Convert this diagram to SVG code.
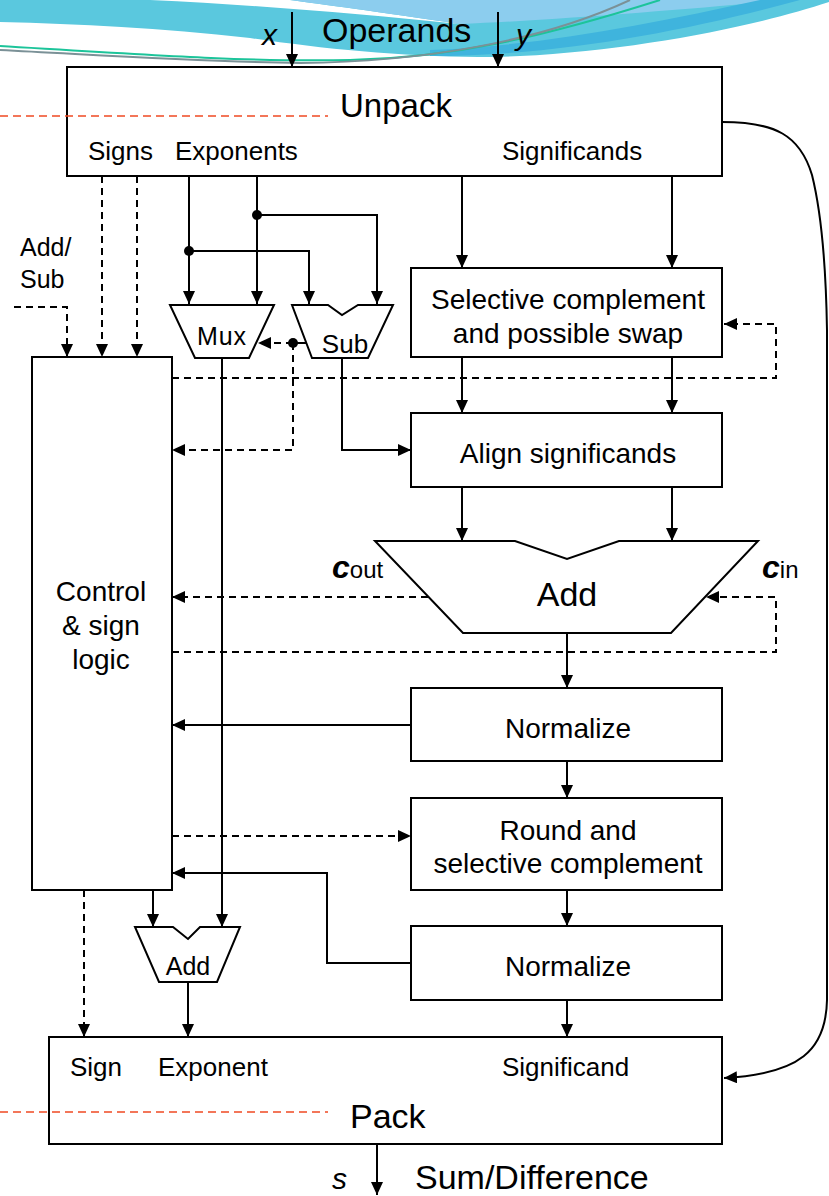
<svg xmlns="http://www.w3.org/2000/svg" width="829" height="1196" viewBox="0 0 829 1196">
<defs>
<style>
.box{fill:#fff;stroke:#000;stroke-width:2}
.ln{fill:none;stroke:#000;stroke-width:2}
.dl{fill:none;stroke:#000;stroke-width:2;stroke-dasharray:7 5}
.rd{fill:none;stroke:#f04a23;stroke-width:1.6;stroke-dasharray:8 5}
text{font-family:"Liberation Sans",Arial,sans-serif;fill:#000}
.big{font-size:34px}
.med{font-size:28px;text-anchor:middle}
.sm{font-size:26px}
</style>
<marker id="ah" markerUnits="userSpaceOnUse" markerWidth="13" markerHeight="12" refX="13" refY="6" orient="auto">
<path d="M0,0 L13,6 L0,12 Z" fill="#000"/>
</marker>
</defs>
<g id="decoration">
<path d="M0,0 H829 V2 C760,25 640,50 520,56 C430,60 330,50 250,38 C160,28 80,24 0,22 Z" fill="#5ac8de"/>
<path d="M150,0 C260,5 360,14 460,24 C380,12 320,4 290,0 Z" fill="#ffffff"/>
<path d="M290,0 C320,4 380,12 460,24 C560,20 700,8 790,0 Z" fill="#8ccdee"/>
<path d="M430,50 C540,46 650,24 760,0 L800,0 C690,30 560,56 430,56 Z" fill="#3fb4dd"/>
<path d="M0,46 C150,55 250,62 350,60 C450,58 540,38 660,0" fill="none" stroke="#1cc49a" stroke-width="2"/>
<path d="M0,50 C100,55 200,62 300,63 C420,62 540,42 630,0" fill="none" stroke="#7b9197" stroke-width="2"/>
</g>
<g id="connectors">
<line class="ln" x1="292" y1="12" x2="292" y2="67" marker-end="url(#ah)"/>
<line class="ln" x1="498" y1="12" x2="498" y2="67" marker-end="url(#ah)"/>
<line class="dl" x1="102" y1="176" x2="102" y2="357" marker-end="url(#ah)"/>
<line class="dl" x1="137" y1="176" x2="137" y2="357" marker-end="url(#ah)"/>
<polyline class="dl" points="14,307 67,307 67,357" marker-end="url(#ah)"/>
<line class="ln" x1="189" y1="176" x2="189" y2="304" marker-end="url(#ah)"/>
<line class="ln" x1="257" y1="176" x2="257" y2="304" marker-end="url(#ah)"/>
<polyline class="ln" points="189,251 309,251 309,304" marker-end="url(#ah)"/>
<polyline class="ln" points="257,215 377,215 377,304" marker-end="url(#ah)"/>
<circle cx="189" cy="251" r="5" fill="#000"/>
<circle cx="257" cy="215" r="5" fill="#000"/>
<line class="ln" x1="293" y1="343" x2="308" y2="343"/>
<line class="dl" x1="293" y1="343" x2="258" y2="343" marker-end="url(#ah)"/>
<polyline class="dl" points="293,343 293,450 172,450" marker-end="url(#ah)"/>
<circle cx="293" cy="343" r="5" fill="#000"/>
<line class="ln" x1="222" y1="358" x2="222" y2="927" marker-end="url(#ah)"/>
<polyline class="ln" points="342,358 342,450 411,450" marker-end="url(#ah)"/>
<line class="ln" x1="462" y1="176" x2="462" y2="268" marker-end="url(#ah)"/>
<line class="ln" x1="672" y1="176" x2="672" y2="268" marker-end="url(#ah)"/>
<line class="ln" x1="462" y1="357" x2="462" y2="413" marker-end="url(#ah)"/>
<line class="ln" x1="672" y1="357" x2="672" y2="413" marker-end="url(#ah)"/>
<polyline class="dl" points="172,378 776,378 776,324 724,324" marker-end="url(#ah)"/>
<line class="ln" x1="462" y1="487" x2="462" y2="541" marker-end="url(#ah)"/>
<line class="ln" x1="672" y1="487" x2="672" y2="541" marker-end="url(#ah)"/>
<line class="dl" x1="428" y1="597" x2="172" y2="597" marker-end="url(#ah)"/>
<polyline class="dl" points="172,652 776,652 776,597 706,597" marker-end="url(#ah)"/>
<line class="ln" x1="567" y1="633" x2="567" y2="688" marker-end="url(#ah)"/>
<line class="ln" x1="411" y1="725" x2="172" y2="725" marker-end="url(#ah)"/>
<line class="ln" x1="567" y1="761" x2="567" y2="798" marker-end="url(#ah)"/>
<line class="dl" x1="172" y1="836" x2="411" y2="836" marker-end="url(#ah)"/>
<line class="ln" x1="567" y1="890" x2="567" y2="926" marker-end="url(#ah)"/>
<polyline class="ln" points="411,963 327,963 327,873 172,873" marker-end="url(#ah)"/>
<line class="dl" x1="84" y1="890" x2="84" y2="1037" marker-end="url(#ah)"/>
<line class="ln" x1="153" y1="890" x2="153" y2="927" marker-end="url(#ah)"/>
<line class="ln" x1="188" y1="982" x2="188" y2="1037" marker-end="url(#ah)"/>
<line class="ln" x1="567" y1="1000" x2="567" y2="1037" marker-end="url(#ah)"/>
<path class="ln" d="M722,122 C775,122 800,135 812,175 C822,215 826,270 827,330 L827,1000 C826,1050 800,1074 724,1078" marker-end="url(#ah)"/>
<line class="ln" x1="377" y1="1144" x2="377" y2="1195" marker-end="url(#ah)"/>
</g>
<g id="labels-top">
<text x="262" y="45" font-size="30" font-style="italic">x</text>
<text class="big" x="322" y="42">Operands</text>
<text x="516" y="45" font-size="30" font-style="italic">y</text>
</g>
<g id="unpack">
<rect class="box" x="67" y="67" width="655" height="109"/>
<line class="rd" x1="0" y1="116" x2="328" y2="116"/>
<text x="340" y="117" font-size="33">Unpack</text>
<text class="sm" x="88" y="160">Signs</text>
<text class="sm" x="175" y="160">Exponents</text>
<text class="sm" x="502" y="160">Significands</text>
</g>
<g id="addsub-label">
<text x="20" y="256" font-size="25">Add/</text>
<text x="20" y="288" font-size="25">Sub</text>
</g>
<g id="mux">
<polygon class="box" points="170,305 274,305 249,358 195,358"/>
<text x="222" y="345" font-size="25" text-anchor="middle" letter-spacing="1">Mux</text>
</g>
<g id="sub">
<polygon class="box" points="292,305 328,305 342,315 358,305 393,305 368,358 312,358"/>
<text x="345" y="353" font-size="26" text-anchor="middle">Sub</text>
</g>
<g id="control">
<rect class="box" x="32" y="357" width="140" height="533"/>
<text class="med" x="101" y="601">Control</text>
<text class="med" x="101" y="635">&amp; sign</text>
<text class="med" x="101" y="669">logic</text>
</g>
<g id="swap">
<rect class="box" x="411" y="268" width="311" height="89"/>
<text class="med" x="568" y="309">Selective complement</text>
<text class="med" x="568" y="343">and possible swap</text>
</g>
<g id="align">
<rect class="box" x="411" y="413" width="311" height="74"/>
<text class="med" x="568" y="463">Align significands</text>
</g>
<g id="adder">
<polygon class="box" points="375,541 515,541 567,559 619,541 758,541 671,633 463,633"/>
<text x="567" y="606" font-size="34" text-anchor="middle">Add</text>
<text x="332" y="578" font-size="32" font-style="italic" font-weight="bold">c<tspan font-size="24" font-style="normal" font-weight="normal">out</tspan></text>
<text x="762" y="578" font-size="32" font-style="italic" font-weight="bold">c<tspan font-size="24" font-style="normal" font-weight="normal">in</tspan></text>
</g>
<g id="normalize1">
<rect class="box" x="411" y="688" width="311" height="73"/>
<text class="med" x="568" y="738">Normalize</text>
</g>
<g id="round">
<rect class="box" x="411" y="798" width="311" height="92"/>
<text class="med" x="568" y="840">Round and</text>
<text class="med" x="568" y="873">selective complement</text>
</g>
<g id="normalize2">
<rect class="box" x="411" y="926" width="311" height="74"/>
<text class="med" x="568" y="976">Normalize</text>
</g>
<g id="expadd">
<polygon class="box" points="135,927 173,927 188,939 200,927 240,927 217,982 159,982"/>
<text x="188" y="975" font-size="25" text-anchor="middle">Add</text>
</g>
<g id="pack">
<rect class="box" x="49" y="1037" width="673" height="107"/>
<line class="rd" x1="0" y1="1112" x2="328" y2="1112"/>
<text class="big" x="350" y="1128">Pack</text>
<text class="sm" x="70" y="1076">Sign</text>
<text class="sm" x="158" y="1076">Exponent</text>
<text class="sm" x="502" y="1076">Significand</text>
</g>
<g id="labels-bottom">
<text x="332" y="1189" font-size="30" font-style="italic">s</text>
<text class="big" x="415" y="1189">Sum/Difference</text>
</g>
</svg>
